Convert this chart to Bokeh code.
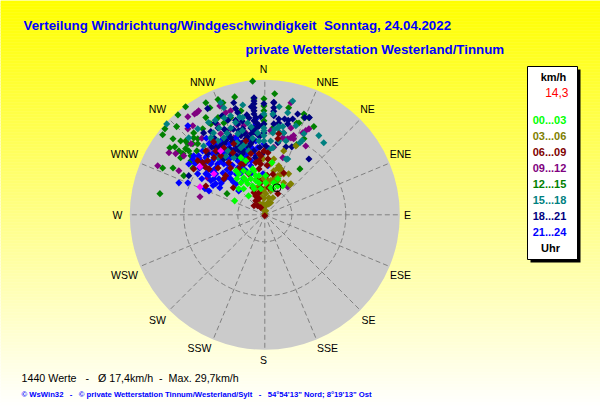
import math
from bokeh.plotting import figure
from bokeh.models import Range1d, Label
from bokeh.embed import file_html
from bokeh.resources import INLINE

# Wind vectors: (east, north) components in km/h
lime = [(-6.7,3.1),(-3.6,4.2),(-4.7,8.2),(-5.3,7.1),(-3.8,6.9),(-2.7,6.4),(-6.2,8.0),(-5.8,5.8),(-4.7,5.8),(-2.0,7.6),(-3.1,8.0),(-1.3,7.1),(0.2,7.1),(0.2,8.7),(-1.3,8.7),(1.3,6.0),(2.9,6.4),(4.0,6.4),(2.0,7.1),(1.8,5.8),(-4.7,9.8),(-2.7,10.2),(-2.0,8.7),(1.6,11.6),(-5.8,9.1),(-4.2,7.6),(-0.9,5.8),(-2.4,5.8),(-5.3,12.7),(-4.2,12.0),(-2.4,9.8),(2.9,8.0),(-3.6,9.3),(-6.4,9.8)]
olive = [(0,0.2),(-0.4,1.3),(0.2,2.0),(0.7,2.7),(-0.4,2.4),(1.3,2.7),(-1.3,2.4),(-0.2,3.6),(0.2,4.7),(0.9,3.8),(1.8,3.8),(-0.4,5.3),(0.2,6.0),(0.9,6.4),(1.3,7.6),(2.0,8.0),(0.7,7.6),(2.9,8.7),(2.0,9.8),(3.1,10.2),(3.6,9.1),(5.3,9.1),(3.1,10.9),(4.2,9.1),(2.9,7.6),(5.8,6.9),(4.2,7.1),(-0.4,8.0),(-1.3,6.4),(-2.0,5.8),(-0.9,4.2),(1.3,5.3),(-1.3,2.7),(0.2,0.9),(0.7,12.4),(2.0,12.4),(2.9,10.4),(4.2,14.2),(6.9,15.3),(5.6,6.7),(3.6,10.2),(-0.4,12.4),(1.3,11.3),(-2.0,4.2),(0.9,2.4),(-1.3,3.8)]
maroon = [(0,-0.2),(-0.9,1.6),(-1.6,2.0),(-2.4,2.0),(-2.0,3.1),(-1.3,3.6),(-2.0,4.2),(-2.4,4.9),(-1.3,4.9),(-0.9,6.0),(-2.7,6.0),(-0.9,7.1),(-1.6,8.0),(-3.6,9.1),(-1.3,10.2),(-0.9,11.3),(-1.3,12.0),(0.7,12.4),(0.7,13.8),(-0.9,13.1),(2.9,4.7),(4.2,9.3),(-9.1,8.0),(-7.1,13.8),(-5.8,10.2),(-4.7,11.3),(-8.0,11.6),(-3.6,12.4),(-9.8,13.1),(-14.9,12.0),(-13.8,11.6),(-12.7,12.0),(-15.8,10.2),(-12.4,10.2),(-13.1,6.4),(0.9,6.0),(-8.7,8.7),(-10.4,10.4),(-7.6,10.4),(-5.3,11.3),(-2.0,11.6),(2.9,16.9),(3.1,18.0),(-4.2,16.4),(-6.9,15.8),(-0.2,14.2),(-9.1,14.9),(-11.3,12.7),(-3.1,13.6),(-1.3,13.6),(-13.1,14.2),(-10.9,14.2),(-11.4,16.2),(-13.2,10.6),(-7,6),(0.5,8.8),(0.5,11),(1.8,9)]
purple = [(-17.1,21.8),(-15.6,22.4),(-15.1,22.7),(-14.7,23.1),(-17.1,19.1),(-16.0,19.8),(-21.3,13.8),(-19.1,9.8),(-23.8,10.9),(-14.4,4.0),(-10.0,24.2),(-8.7,22.7),(-7.6,23.1),(-16.4,15.8),(-14.7,12.7),(-19.8,13.6),(5.8,19.3),(6.4,17.6),(5.1,16.9),(6.4,16.9),(9.1,15.3),(9.1,18.7),(9.8,19.1),(4.0,12.7),(5.1,6.2),(-12.7,8.2),(-11.3,9.8),(-4.7,19.8),(-4.2,18.2),(-6.9,17.1),(-7.6,19.1),(-9.8,18.0),(-1.6,12.7),(-15.3,11.6),(-18.0,13.1),(-12.7,14.2),(1.3,18.7),(4.2,18.2),(8.4,18.2),(5.8,24.9),(4.0,17.1),(5.8,17.1),(-10.5,20),(-8.8,16.8),(-6.2,20),(-12,16.2),(-14,17),(-3,16.3),(2,15)]
green = [(-2.7,29.7),(-6.7,26.2),(2.2,26.9),(-0.2,25.8),(-0.2,24.2),(-0.2,22.0),(5.3,23.8),(8.7,21.6),(1.8,19.3),(7.1,20.4),(8.7,16.9),(7.1,15.6),(-0.2,20.2),(-13.1,24.9),(-10.4,25.6),(-12.2,23.8),(-9.3,24.9),(-17.6,24.0),(-19.3,22.2),(-22.2,19.1),(-22.7,17.8),(-19.6,19.6),(-20.4,16.9),(-21.1,14.9),(-20.0,15.1),(-18.2,13.6),(-15.8,17.1),(-14.9,16.9),(-16.0,15.8),(-14.9,15.8),(-17.6,14.7),(-16.4,13.1),(-22.7,10.4),(-20.4,10.4),(-18.0,8.7),(-16.0,10.4),(-16.4,12.0),(-23.3,4.7),(-8.4,4.7),(-13.1,21.6),(-12.0,20.2),(-10.4,21.6),(-9.1,20.4),(8.7,22.4),(9.8,21.6),(10.9,19.6),(7.8,10.2),(7.6,20.4),(-13.8,19.1),(-15.8,18.2),(-17.1,15.8),(-18.7,12.7),(-7.6,21.6),(-5.3,23.1),(-2.4,25.8),(-18.7,16.4),(-16.9,14.2),(-19.1,14.2),(-17.6,16.4),(-15.1,14.2),(-0.2,23.1),(-0.2,20.9)]
teal = [(-21.8,20.2),(-4.9,24.4),(6.2,25.3),(12.0,17.6),(13.1,16.0),(8.7,18.0),(7.8,16.0),(4.7,12.4),(5.1,22.7),(6.9,19.8),(2.9,19.3),(1.8,18.2),(3.1,16.4),(4.7,16.4),(1.3,16.4),(1.8,14.9),(-0.2,16.4),(-1.6,18.2),(-1.3,16.4),(-16.9,17.1),(-9.8,24.9),(-9.1,23.8),(-4.9,21.6),(-7.6,22.0),(-10.2,19.3),(-12.0,17.1),(-14.9,19.1),(-13.6,15.3),(-10.4,16.4),(-7.6,19.3),(-6.0,18.0),(-3.8,20.4),(-9.1,17.1),(-5.3,14.9),(-8.2,14.2),(-3.6,14.2),(-10.4,12.7),(-12.7,12.0),(-0.2,19.3),(1.8,22.4),(-0.2,22.4),(4.2,18.2),(-6.9,12.7),(-4.7,12.0),(5.1,12.4),(-11,21),(-9,21.5),(-6.5,20.5),(-5,18.7),(-3,19.5),(-8.4,18.1),(-11.4,18.2),(-6.2,16),(-4.5,15.6),(-8.7,13),(-2.7,17),(-5.6,21.7),(-12.5,20.5),(-1,13),(3.2,24),(2.2,19),(3.3,18.3),(8.3,16.5),(1.1,14.5),(-0.2,17.6),(-0.2,18.7),(3.1,19.6),(4.0,19.6)]
navy = [(-6.9,24.9),(-12.7,23.6),(-6.0,22.7),(-2.4,23.1),(-2.0,21.6),(-1.8,20.4),(-1.8,19.3),(-2.4,24.7),(2.0,24.9),(2.0,23.8),(2.0,22.0),(2.0,20.2),(4.4,21.3),(3.1,20.4),(5.1,20.2),(7.3,22.4),(8.9,21.6),(9.8,12.4),(6.0,15.1),(4.7,15.1),(2.9,16.0),(-0.2,20.2),(-0.2,18.2),(-4.2,16.9),(-3.1,15.8),(-4.9,19.1),(-6.0,20.2),(-7.6,17.1),(-9.1,15.8),(-11.3,17.1),(-4.7,14.2),(-6.9,14.2),(-10.2,13.6),(-12.7,13.6),(-16.9,8.7),(-3.1,19.3),(-2.0,18.2),(-5.8,15.8),(-7.6,13.6),(-10.4,19.3),(-13.6,18.2),(-9.1,12.4),(-3.8,12.4),(-2.4,14.2),(0.2,15.3),(3.1,21.3),(-5.3,17.6),(-8.7,18.7),(-6.4,15.3),(-10.9,14.9),(-2.4,26.0),(-2.4,25.3),(-2.4,23.8),(-2.4,22.4),(-2.4,20.9),(-2.4,19.3),(-2.4,18.7),(-0.2,24.7),(2.0,25.0),(2.0,23.0),(5.2,21.0),(6.2,21.3),(9.9,21.6),(-6.5,21),(-5,20.8),(-3.5,21.5),(-7,19),(-5.8,18.7),(-4.5,18.2),(-3,18),(-1.2,17.4),(-7.2,16.3),(-5,16),(-3.7,15.2),(-2.6,16.6),(-1.1,15),(-6.2,13),(-5,13.5),(-3.3,14),(-2.1,12.7),(-0.6,13.5),(-8,17.8),(-9,19),(-8.2,21),(-4,22.2),(-3,24),(-6.5,23.6),(-9.5,22),(-11,20.5),(-12,18.5),(-8.7,16.5),(-10,15.2),(-11.8,15),(-7.8,14.6),(-5.8,14.3),(-1.2,19.8),(-0.9,21.8),(-3.8,17.3)]
blue = [(-19.1,7.1),(-17.1,7.1),(-12.4,5.3),(-10.0,6.0),(-13.3,5.8),(-10.9,6.9),(-12.0,7.6),(-9.1,7.8),(-7.6,9.3),(-13.1,9.1),(-14.9,9.1),(-15.8,13.1),(-16.9,11.3),(-16.0,12.4),(-17.1,19.8),(-14.2,12.0),(-11.6,13.6),(-13.8,14.2),(-12.4,15.8),(-10.4,14.7),(-9.8,16.4),(-8.2,17.1),(-6.0,16.4),(-5.3,13.1),(-7.6,12.7),(-9.8,12.0),(-12.0,11.3),(-8.2,11.3),(-10.9,9.1),(-9.3,9.3),(-10.9,10.4),(-6.0,10.4),(-9.1,11.3),(-3.1,10.9),(-4.2,9.8),(-4.2,14.9),(-2.0,16.4),(-1.6,14.9),(-0.2,15.8),(0.7,10.9),(-0.4,9.1),(-5.8,5.3),(-6.4,6.9),(-4.7,8.0),(-11.3,8.0),(-12.7,10.2),(-10.2,8.0),(-7.6,8.0),(-13.1,12.7),(-10.9,15.8),(-8.0,14.9),(-6.0,12.0),(0.9,14.7),(-2.0,13.1),(-14.7,13.1),(-4.2,11.6),(-7.6,15.8),(-6.0,14.7),(-9.1,13.6),(-3.8,13.6),(-3.1,9.1),(-2.0,20.2),(-2.0,21.3),(-8.7,14.2),(-9.3,15.8),(-6.4,17.1),(-11.6,12.0),(-13.6,10.9),(-5.3,9.3),(-13,17),(-11.7,16.7),(-8.5,16),(-11.2,15.1),(-9.7,15),(-7,14.4),(-5,14),(-12.9,13),(-10.9,12.9),(-8.4,12.7),(-6.6,13.4),(-13.3,11.6),(-10.5,11.3),(-7.2,11),(-5,10.6),(-14.5,10.4),(-11.7,9.7),(-8.4,10),(-6.3,9),(-8.3,8.5),(-14,8),(-12.5,8.8),(-9.7,7),(-7,7.3),(-11.5,6.5),(-4.2,12.8),(-3,12),(-15.5,11.4),(-3,15),(-3.5,16.7),(-5,15.5),(-6.7,15.9)]
magenta = [(-14.4,6.2),(-14.4,10.7),(-11.3,9.1),(-9.8,14.2)]
current = [(2.7,6.0)]

legend_labels = ["00...03","03...06","06...09","09...12","12...15","15...18","18...21","21...24"]
legend_colors = ["#00FF00","#808000","#800000","#800080","#008000","#008080","#000080","#0000FF"]
series = [lime, olive, maroon, purple, green, teal, navy, blue]
draw_order = [4, 3, 7, 6, 5, 1, 2, 0]

compass = ["N","NNE","NE","ENE","E","ESE","SE","SSE","S","SSW","SW","WSW","W","WNW","NW","NNW"]
compass_px = [(263,68),(327,81),(367,108),(400,153),(407,214),(400,274),(368,319),(327,347),(263,359),(199,347),(157,319),(124,274),(117,214),(124,153),(157,108),(202,81)]
rings_kmh = [6, 18]
max_kmh = 30

W, H = 600, 415
CX, CY, K = 264.3, 214.3, 4.5
fx = lambda px: (px - CX) / K
fy = lambda py: (CY - py) / K

p = figure(width=W, height=H, output_backend="svg", toolbar_location=None,
           x_range=Range1d(fx(0), fx(W)), y_range=Range1d(fy(H), fy(0)),
           min_border=0, outline_line_color=None)
p.axis.visible = False
p.grid.visible = False

# background gradient
step = 3
tops = list(range(0, H, step))
cols = []
for t in tops:
    b = int(round(255 * min(1, (t / 405))))
    cols.append("#ffff%02x" % b)
p.quad(left=[fx(0)]*len(tops), right=[fx(W)]*len(tops),
       top=[fy(t) for t in tops], bottom=[fy(t+step) for t in tops],
       fill_color=cols, line_color=cols, line_width=0.5)

# disk, rings, spokes
p.circle(x=[0], y=[0], radius=max_kmh, fill_color="#cbcbcb", line_color=None)
p.circle(x=[0]*len(rings_kmh), y=[0]*len(rings_kmh), radius=rings_kmh, fill_color=None,
         line_color="#808080", line_width=1, line_dash="5 3")
ang = [math.radians(i*22.5) for i in range(16)]
p.segment(x0=[0]*16, y0=[0]*16, x1=[max_kmh*math.sin(a) for a in ang], y1=[max_kmh*math.cos(a) for a in ang],
          line_color="#808080", line_width=1, line_dash="5 3")
p.scatter(x=[0], y=[0], marker="square", size=5, fill_color="#808080", line_color=None)

# points
for i in draw_order:
    s = series[i]
    p.scatter(x=[q[0] for q in s], y=[q[1] for q in s], marker="square", size=5, angle=math.pi/4,
              fill_color=legend_colors[i], line_color=None)
p.scatter(x=[q[0] for q in magenta], y=[q[1] for q in magenta], marker="square", size=5, angle=math.pi/4,
          fill_color="#FF00FF", line_color=None)
p.scatter(x=[q[0] for q in current], y=[q[1] for q in current], marker="circle", size=8,
          fill_color=None, line_color="black", line_width=1)

def text(px, py, s, size="12px", color="black", style="normal", align="left", font="Liberation Sans"):
    p.add_layout(Label(x=fx(px), y=fy(py), text=s, text_font=font, text_font_size=size,
                       text_color=color, text_font_style=style, text_align=align, text_baseline="middle"))

text(23, 25, "Verteilung Windrichtung/Windgeschwindigkeit\u00a0\u00a0Sonntag, 24.04.2022", "13.3px", "#0000FF", "bold")
text(245, 49, "private Wetterstation Westerland/Tinnum", "13.3px", "#0000FF", "bold")
for name, (px, py) in zip(compass, compass_px):
    text(px, py, name, "10.5px", "black", align="center")

# legend box
p.quad(left=[fx(530)], right=[fx(580)], top=[fy(69)], bottom=[fy(262)], fill_color="black", line_color=None)
p.quad(left=[fx(527)], right=[fx(577)], top=[fy(66)], bottom=[fy(259)], fill_color="white", line_color="black", line_width=1)
text(553, 76, "km/h", "11px", "black", "bold", "center")
text(568, 92, "14,3", "12px", "#FF0000", "normal", "right")
for j, (lab, col) in enumerate(zip(legend_labels, legend_colors)):
    text(549, 119 + 16*j, lab, "11px", col, "bold", "center")
text(550, 247, "Uhr", "11px", "black", "bold", "center")

text(21, 377, "1440 Werte\u00a0\u00a0\u00a0-\u00a0\u00a0\u00a0\u00d8 17,4km/h\u00a0\u00a0-\u00a0\u00a0Max. 29,7km/h", "10.7px")
text(21, 394, "\u00a9 WsWin32\u00a0\u00a0\u00a0-\u00a0\u00a0\u00a0\u00a9 private Wetterstation Tinnum/Westerland/Sylt\u00a0\u00a0\u00a0-\u00a0\u00a0\u00a054\u00b054'13\" Nord; 8\u00b019'13\" Ost", "7.7px", "#0000FF", "bold")

open("out.html", "w").write(file_html(p, INLINE))
